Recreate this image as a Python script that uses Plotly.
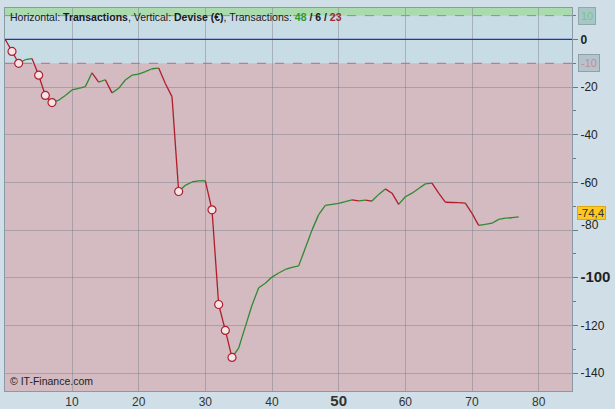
import plotly.graph_objects as go

# ---- data ----
trades = list(range(0, 78))
equity = [0, -5, -10, -8.5, -8, -15, -23.5, -26.5, -25.5, -23.5,
          -21.2, -20.5, -19.8, -14, -17.9, -16.9, -22.4, -20.5, -17, -15,
          -14.5, -13.5, -12.3, -12, -18.5, -24, -63.8, -61.2, -59.8, -59.3,
          -59.3, -71.5, -111.2, -122.1, -133.4, -129.5, -120.5, -111.5, -104.2, -102.3,
          -99.7, -98, -96.5, -95.6, -95, -87.5, -80, -73.5, -69.6, -69.2,
          -68.8, -68, -67.3, -67.7, -67.4, -67.8, -65, -62.7, -64.5, -69.2,
          -66, -64.5, -62.5, -60.6, -60.3, -64.5, -68.3, -68.4, -68.5, -68.7,
          -73, -78, -77.6, -77.1, -75.5, -75, -74.8, -74.4]
marked = [1, 2, 5, 6, 7, 26, 31, 32, 33, 34]
y_ticks = [0, -20, -40, -60, -80, -100, -120, -140]
y_ticklabels = ["<b>0</b>", "-20", "-40", "-60", "", "<span style=\"font-size:15px\"><b>-100</b></span>", "-120", "-140"]
x_ticks = [10, 20, 30, 40, 50, 60, 70, 80]
x_ticklabels = ["10", "20", "30", "40", "<span style=\"font-size:15px\"><b>50</b></span>", "60", "70", "80"]
upper_level = 10
lower_level = -10
last_value = -74.4

GREEN = "#2E8A2E"
RED = "#B01E2C"

gx, gy, rx, ry = [], [], [], []
for i in range(len(trades) - 1):
    seg_x = [trades[i], trades[i + 1], None]
    seg_y = [equity[i], equity[i + 1], None]
    if equity[i + 1] >= equity[i]:
        gx += seg_x; gy += seg_y
    else:
        rx += seg_x; ry += seg_y

XR = [-0.05, 85.0]
YR = [-147.5, 13.2]

fig = go.Figure()
fig.add_trace(go.Scatter(x=gx, y=gy, mode="lines", line=dict(color=GREEN, width=1.3),
                         hoverinfo="skip", showlegend=False))
fig.add_trace(go.Scatter(x=rx, y=ry, mode="lines", line=dict(color=RED, width=1.3),
                         hoverinfo="skip", showlegend=False))
fig.add_trace(go.Scatter(x=[trades[i] for i in marked], y=[equity[i] for i in marked],
                         mode="markers",
                         marker=dict(size=8, color="#F2E6E8", line=dict(color=RED, width=1.2)),
                         hoverinfo="skip", showlegend=False))

shapes = [
    dict(type="rect", xref="x", yref="y", x0=XR[0], x1=XR[1], y0=YR[0], y1=lower_level,
         fillcolor="#D3BBC1", line=dict(width=0), layer="below"),
    dict(type="rect", xref="x", yref="y", x0=XR[0], x1=XR[1], y0=upper_level, y1=YR[1],
         fillcolor="#A9DBAE", line=dict(width=0), layer="below"),
    dict(type="line", xref="x", yref="y", x0=XR[0], x1=XR[1], y0=upper_level, y1=upper_level,
         line=dict(color="#5FAE63", width=1, dash="dash")),
    dict(type="line", xref="x", yref="y", x0=XR[0], x1=XR[1], y0=lower_level, y1=lower_level,
         line=dict(color="#C06A6E", width=1, dash="dash")),
    dict(type="line", xref="x", yref="y", x0=XR[0], x1=XR[1], y0=0, y1=0,
         line=dict(color="#2233BB", width=1.2)),
]

annotations = [
    dict(xref="paper", yref="paper", x=0.005, y=1, xanchor="left", yanchor="top", yshift=-1,
         showarrow=False, align="left",
         text="Horizontal: <b>Transactions</b>, Vertical: <b>Devise (€)</b>, Transactions: "
              "<b><span style=\"color:#2E9A2E\">48</span></b> <b>/ 6 /</b> "
              "<b><span style=\"color:#A0282A\">23</span></b>",
         font=dict(family="Liberation Sans, Arial", size=10.5, color="#1A1A1A")),
    dict(xref="paper", yref="paper", x=0.005, y=0, xanchor="left", yanchor="bottom", yshift=2,
         showarrow=False, text="© IT-Finance.com",
         font=dict(family="Liberation Sans, Arial", size=10.5, color="#222")),
    dict(xref="paper", yref="y", x=1, y=upper_level, xanchor="left", xshift=6, showarrow=False,
         text="10", bgcolor="#A9C6C6", bordercolor="#8FA8AC", borderwidth=1, borderpad=2,
         font=dict(family="Liberation Sans, Arial", size=11, color="#78C880")),
    dict(xref="paper", yref="y", x=1, y=lower_level, xanchor="left", xshift=6, showarrow=False,
         text="-10", bgcolor="#B4C4CC", bordercolor="#8FA0A8", borderwidth=1, borderpad=2,
         font=dict(family="Liberation Sans, Arial", size=11, color="#C48C90")),
    dict(xref="paper", yref="y", x=1, y=last_value, xanchor="left", xshift=5, yshift=4,
         showarrow=False,
         text="-74,4", bgcolor="#FFC81E", bordercolor="#E0A810", borderwidth=1, borderpad=0,
         font=dict(family="Liberation Sans, Arial", size=11.5, color="#333")),
    dict(xref="paper", yref="y", x=1, y=-80, xanchor="left", xshift=7, yshift=5, showarrow=False,
         text="-80", font=dict(family="Liberation Sans, Arial", size=12, color="#222")),
]

fig.update_layout(
    width=615, height=409,
    margin=dict(l=5, r=43, t=8, b=18, autoexpand=False),
    paper_bgcolor="#D0DFE7",
    plot_bgcolor="#C8DCE6",
    shapes=shapes,
    annotations=annotations,
    font=dict(family="Liberation Sans, Arial", size=12, color="#222"),
)
fig.update_xaxes(range=XR, tickvals=x_ticks, ticktext=x_ticklabels, ticks="", automargin=False,
                 showgrid=True, gridcolor="rgba(120,125,135,0.45)", gridwidth=1,
                 zeroline=False, showline=True, mirror=True, linecolor="#8A9AA4", linewidth=1,
                 tickfont=dict(size=12, color="#333"))
fig.update_yaxes(range=YR, side="right", tickvals=y_ticks, ticktext=y_ticklabels, automargin=False,
                 ticks="outside", ticklen=5, tickcolor="#6A7A84",
                 minor=dict(dtick=10, tick0=0, ticks="outside", ticklen=3, tickcolor="#6A7A84", showgrid=False),
                 showgrid=True, gridcolor="rgba(120,125,135,0.45)", gridwidth=1,
                 zeroline=False, showline=True, mirror=True, linecolor="#8A9AA4", linewidth=1,
                 tickfont=dict(size=12, color="#222"))

fig.write_html("out.html", config={"displayModeBar": False},
               post_script="document.body.style.margin='0px';")
